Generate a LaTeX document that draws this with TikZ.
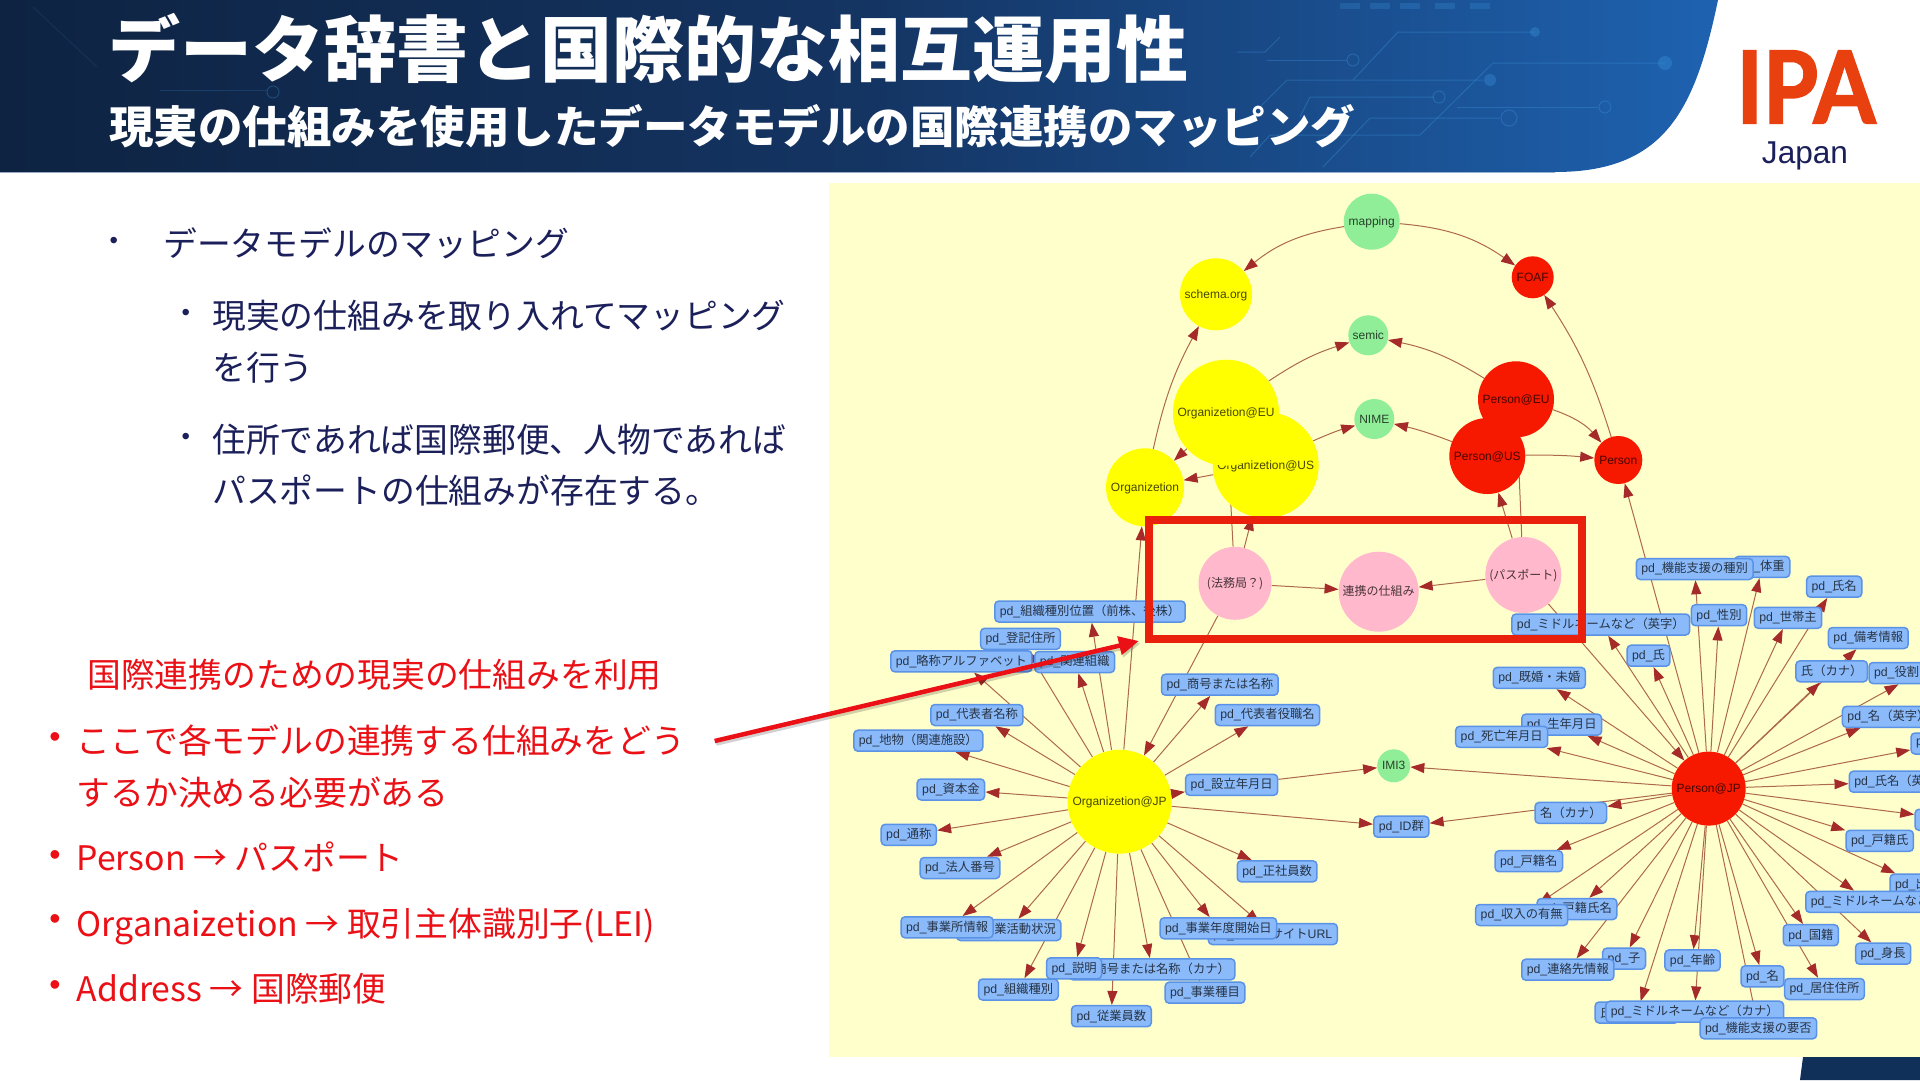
\documentclass[tikz,border=0pt]{standalone}
\usepackage{fontspec}
\setmainfont{Liberation Sans}
\newfontfamily\cjk{Noto Sans CJK JP}
\newfontfamily\logofont[FakeBold=2]{Lato}
\usetikzlibrary{arrows.meta}
\pgfdeclarelayer{backdrop}
\pgfdeclarelayer{links}
\pgfsetlayers{backdrop,links,main}
\newcommand\pd[1]{pd\_{\cjk #1}}
\definecolor{panelcol}{HTML}{FFFFCC}
\definecolor{navycol}{HTML}{1B1F5A}
\definecolor{alertcol}{HTML}{EA1016}
\definecolor{framecol}{HTML}{E8200C}
\definecolor{fieldcol}{HTML}{8BBAFA}
\definecolor{fieldline}{HTML}{5A92E6}
\definecolor{linkcol}{HTML}{AD6A4A}
\definecolor{tipcol}{HTML}{A52A2A}
\definecolor{redcol}{HTML}{F71800}
\definecolor{greencol}{HTML}{90EE98}
\definecolor{pinkcol}{HTML}{FFB8CC}
\definecolor{yellowcol}{HTML}{FFFF00}
\definecolor{bannerA}{HTML}{0E2342}
\definecolor{bannerB}{HTML}{143462}
\definecolor{bannerC}{HTML}{1E62B0}
\definecolor{cornercol}{HTML}{10305A}
\definecolor{tracecol}{HTML}{3D95DC}
\definecolor{logocol}{HTML}{E8400F}
\definecolor{rulecol}{HTML}{A9BDD6}
\tikzset{
    bubble/.style 2 args={circle,fill=#1,minimum size=#2,inner sep=0pt,text=black,text opacity=.72,text height=11pt,text depth=3pt,font=\fontsize{12}{14}\selectfont},
    field/.style={rectangle,rounded corners=4pt,fill=fieldcol,draw=fieldline,line width=1.5pt,minimum height=21pt,inner xsep=5pt,inner ysep=0pt,text=black,text opacity=.72,font=\fontsize{12.3}{14}\selectfont},
    cutfield/.style={field,text width=#1,align=left},
    link/.style={draw=linkcol,line width=1pt,-{Triangle[length=14pt,width=10pt,color=tipcol]}},
    body/.style={anchor=west,inner sep=0pt,align=left,text=navycol,font=\cjk\fontsize{33.8}{51.6}\selectfont},
    alert/.style={body,text=alertcol},
    navydot/.style={inner sep=0pt,text=navycol,font=\fontsize{24}{24}\selectfont},
    alertdot/.style={inner sep=0pt,text=alertcol,font=\fontsize{32}{32}\selectfont},
    trace/.style={draw=tracecol,line width=1pt,opacity=.35},
    tracedot/.style={fill=tracecol,opacity=.35}
}
\begin{document}
\begin{tikzpicture}[x=1pt,y=-1pt]
    \useasboundingbox (0,0) rectangle (1920,1080);
    % banner and panel
    \begin{pgfonlayer}{backdrop}
        \fill[white] (0,0) rectangle (1920,1080);
        \fill[panelcol] (829,183) rectangle (1920,1057);
        \draw[line width=1.5pt,rulecol] (0,172.5) -- (1555,172.5);
        \path[left color=bannerA,right color=bannerC,middle color=bannerB]
            (0,0) -- (1718,0) .. controls (1695,110) and (1665,172) .. (1555,172) -- (0,172) -- cycle;
        % circuit lines
        \draw[trace] (1353,80) -- (1398,32) -- (1535,32);
        \fill[tracedot] (1535,32) circle (5);
        \draw[trace] (1420,135) -- (1493,63) -- (1665,63);
        \fill[tracedot] (1665,63) circle (7);
        \draw[trace] (1260,107) -- (1287,80) -- (1483,80);
        \fill[tracedot] (1490,80) circle (6);
        \draw[trace] (1300,117) -- (1310,97) -- (1434,97);
        \draw[trace] (1439,97) circle (6);
        \draw[trace] (1323,167) -- (1370,118) -- (1500,118);
        \draw[trace] (1509,118) circle (8);
        \draw[trace] (1250,157) -- (1270,135) -- (1420,135);
        \draw[trace] (1457,107) -- (1598,107);
        \draw[trace] (1605,107) circle (6);
        \draw[trace] (1267,60) -- (1347,60);
        \draw[trace] (1353,60) circle (6);
        \draw[trace] (1237,52) -- (1265,52) -- (1280,37);
        \draw[trace,opacity=.2] (160,90) -- (267,90);
        \draw[trace,opacity=.3] (273,92) circle (6);
        \draw[trace,opacity=.12] (33,7) -- (97,67);
        \foreach \u in {1340,1370,1400,1435,1470}
            \fill[tracedot,opacity=.25] (\u,3) rectangle +(20,6);
        % corner
        \fill[cornercol] (1803,1057) -- (1920,1057) -- (1920,1080) -- (1800,1080) -- cycle;
    \end{pgfonlayer}
    % headline
    \node[anchor=west,inner sep=0pt,text=white,font=\cjk\bfseries\fontsize{72}{80}\selectfont] (title) at (108,49) {データ辞書と国際的な相互運用性};
    \node[anchor=west,inner sep=0pt,text=white,font=\cjk\bfseries\fontsize{44.5}{50}\selectfont] (subtitle) at (109,126) {現実の仕組みを使用したデータモデルの国際連携のマッピング};
    \node[inner sep=0pt,text=logocol,font=\logofont\bfseries\fontsize{100}{100}\selectfont,xscale=.89] (logo) at (1806,87) {IPA};
    \node[inner sep=0pt,text=navycol,font=\fontsize{31.6}{36}\selectfont] (japan) at (1805,155.5) {Japan};
    % left text
    \node[navydot] (dotA) at (113.8,242.7) {•};
    \node[body] (lineA) at (163,243) {データモデルのマッピング};
    \node[navydot] (dotB) at (185.8,315) {•};
    \node[body] (lineB) at (212,341.5) {現実の仕組みを取り入れてマッピング\\を行う};
    \node[navydot] (dotC) at (185.8,438.5) {•};
    \node[body] (lineC) at (212,465) {住所であれば国際郵便、人物であれば\\パスポートの仕組みが存在する。};
    \node[alert] (headD) at (87,675) {国際連携のための現実の仕組みを利用};
    \node[alertdot] (dotD) at (55,740) {•};
    \node[alert] (lineD) at (76.5,766.5) {ここで各モデルの連携する仕組みをどう\\するか決める必要がある};
    \node[alertdot] (dotE) at (55,857.6) {•};
    \node[alert] (lineE) at (76.5,857) {Person → パスポート};
    \node[alertdot] (dotF) at (55,922) {•};
    \node[alert] (lineF) at (76.5,927) {Organaizetion → 取引主体識別子(LEI)};
    \node[alertdot] (dotG) at (55,988) {•};
    \node[alert] (lineG) at (76.5,989) {Address → 国際郵便};
    % upper graph
    \node[bubble={greencol}{56pt}] (mapping) at (1371.7,221.7) {mapping};
    \node[bubble={yellowcol}{72pt}] (schema) at (1216,294.3) {schema.org};
    \node[bubble={redcol}{42pt}] (foaf) at (1532.7,277.3) {FOAF};
    \node[bubble={greencol}{40pt}] (semic) at (1368.3,335.3) {semic};
    \node[bubble={greencol}{40pt}] (nime) at (1374.3,419) {NIME};
    \node[bubble={yellowcol}{78pt}] (org) at (1145,487.3) {Organizetion};
    \node[bubble={yellowcol}{106pt}] (orgUS) at (1265.7,465) {Organizetion@US};
    \node[bubble={yellowcol}{106pt}] (orgEU) at (1226,412.7) {Organizetion@EU};
    \node[bubble={redcol}{76pt}] (perEU) at (1516,399.3) {Person@EU};
    \node[bubble={redcol}{76pt}] (perUS) at (1487.3,456) {Person@US};
    \node[bubble={redcol}{48pt}] (per) at (1618.3,460) {Person};
    \node[bubble={pinkcol}{73pt}] (legal) at (1235,583.3) {\cjk (法務局？)};
    \node[bubble={pinkcol}{80pt}] (bridge) at (1378.7,591.7) {\cjk 連携の仕組み};
    \node[bubble={pinkcol}{76pt}] (passport) at (1523.3,575) {\cjk (パスポート)};
    \node[bubble={greencol}{33pt}] (imi) at (1393.7,765.8) {IMI3};
    % organization fields
    \node[bubble={yellowcol}{104pt}] (orgJP) at (1119.6,801.7) {Organizetion@JP};
    \node[field] (oPos) at (1090,611.5) {\pd{組織種別位置（前株、後株）}};
    \node[field] (oAddr) at (1020.5,638.8) {\pd{登記住所}};
    \node[field] (oAbbr) at (961.4,661.3) {\pd{略称アルファベット}};
    \node[field] (oRel) at (1074.7,662) {\pd{関連組織}};
    \node[field] (oName) at (1219.8,684.7) {\pd{商号または名称}};
    \node[field] (oRepT) at (1267.5,715) {\pd{代表者役職名}};
    \node[field] (oRep) at (976.9,715) {\pd{代表者名称}};
    \node[field] (oFac) at (918.3,740.7) {\pd{地物（関連施設）}};
    \node[field] (oCap) at (950.9,789.5) {\pd{資本金}};
    \node[field] (oDate) at (1231.7,784.8) {\pd{設立年月日}};
    \node[field] (oAlias) at (908.8,834.8) {\pd{通称}};
    \node[field] (oNum) at (960,868) {\pd{法人番号}};
    \node[field] (oStaff) at (1277.1,871.3) {\pd{正社員数}};
    \node[field] (oBiz) at (1008.7,930) {\pd{事業活動状況}};
    \node[field] (oOffice) at (947.1,927.3) {\pd{事業所情報}};
    \node[field] (oWeb) at (1272.8,934) {\pd{ウェブサイト}URL};
    \node[field] (oFY) at (1218.4,928.3) {\pd{事業年度開始日}};
    \node[field] (oKana) at (1152,969.3) {\pd{商号または名称（カナ）}};
    \node[field] (oDesc) at (1074.1,968.3) {\pd{説明}};
    \node[field] (oType) at (1018.4,989.5) {\pd{組織種別}};
    \node[field] (oItem) at (1205,992.7) {\pd{事業種目}};
    \node[field] (oEmp) at (1111.4,1016.2) {\pd{従業員数}};
    \node[field] (idGroup) at (1401.3,826.7) {pd\_ID{\cjk 群}};
    % person fields
    \node[bubble={redcol}{74pt}] (perJP) at (1708.7,788.6) {Person@JP};
    \node[field] (pWt) at (1762.2,566.9) {\pd{体重}};
    \node[field] (pFn) at (1694.7,569) {\pd{機能支援の種別}};
    \node[field] (pName) at (1834.2,586.7) {\pd{氏名}};
    \node[field] (pSex) at (1719,615.2) {\pd{性別}};
    \node[field] (pHead) at (1788,617.8) {\pd{世帯主}};
    \node[field] (pMidE) at (1600.8,624.5) {\pd{ミドルネームなど（英字）}};
    \node[field] (pNote) at (1868.3,638) {\pd{備考情報}};
    \node[field] (pSur) at (1648.5,655.7) {\pd{氏}};
    \node[field,font=\cjk\fontsize{12.3}{14}\selectfont] (pSurK) at (1831.7,671.3) {氏（カナ）};
    \node[cutfield=90pt] (pRole) at (1919,673) {\pd{役割}};
    \node[field] (pMar) at (1539.3,677.9) {\pd{既婚・未婚}};
    \node[field,anchor=west] (pGivE) at (1841.7,716.8) {\pd{名（英字）}};
    \node[field] (pBirth) at (1561.7,724.6) {\pd{生年月日}};
    \node[field] (pDeath) at (1501.7,736.8) {\pd{死亡年月日}};
    \node[cutfield=56pt] (pCut) at (1944,743.5) {p};
    \node[cutfield=104pt] (pNameE) at (1906.3,781.7) {\pd{氏名（英}};
    \node[field,font=\cjk\fontsize{12.3}{14}\selectfont] (pGivK) at (1570.8,812.9) {名（カナ）};
    \node[cutfield=74pt] (pBlank) at (1957,819.8) {};
    \node[field] (pFam) at (1879.7,840.8) {\pd{戸籍氏}};
    \node[field] (pKos) at (1528.8,861.2) {\pd{戸籍名}};
    \node[cutfield=50pt] (pOut) at (1920,884.7) {\pd{出}};
    \node[field,anchor=west] (pMidX) at (1805,901.9) {\pd{ミドルネームなど}};
    \node[field] (pFamN) at (1577,909) {\pd{戸籍氏名}};
    \node[field] (pInc) at (1521.7,915) {\pd{収入の有無}};
    \node[field] (pNat) at (1810.8,935.2) {\pd{国籍}};
    \node[field] (pTall) at (1883.1,953.7) {\pd{身長}};
    \node[field] (pChild) at (1624.1,958.7) {\pd{子}};
    \node[field] (pAge) at (1692.5,960.4) {\pd{年齢}};
    \node[field] (pCont) at (1567.8,969.7) {\pd{連絡先情報}};
    \node[field] (pGiv) at (1762.5,976.3) {\pd{名}};
    \node[field] (pAddr) at (1824.5,989) {\pd{居住住所}};
    \node[field,font=\cjk\fontsize{12.3}{14}\selectfont] (pKanaF) at (1637,1012.5) {氏名（カナ）};
    \node[field] (pMidK) at (1694.7,1011.7) {\pd{ミドルネームなど（カナ）}};
    \node[field] (pNeed) at (1758.4,1028.3) {\pd{機能支援の要否}};
    % connectors
    \begin{pgfonlayer}{links}
        \draw[link] (mapping) to[bend right=15] (schema);
        \draw[link] (mapping) to[bend left=15] (foaf);
        \draw[link] (org) to[bend left=8] (schema);
        \draw[link] (per) to[bend right=8] (foaf);
        \draw[link] (orgEU) to[bend left=8] (semic);
        \draw[link] (orgUS) to[bend left=4] (nime);
        \draw[link] (perEU) to[bend right=10] (semic);
        \draw[link] (perUS) to[bend right=4] (nime);
        \draw[link] (perEU) to[bend left=15] (per);
        \draw[link] (perUS) to[bend left=3] (per);
        \draw[link] (orgEU) -- (org);
        \draw[link] (orgUS) -- (org);
        \draw[link] (legal) -- (orgEU);
        \draw[link] (legal) -- (orgUS);
        \draw[link] (legal) -- (bridge);
        \draw[link] (legal) -- (orgJP);
        \draw[link] (passport) -- (bridge);
        \draw[link] (passport) -- (perUS);
        \draw[link] (passport) -- (perEU);
        \draw[link] (passport) -- (perJP);
        \draw[link] (orgJP) -- (org);
        \draw[link] (perJP) -- (per);
        \draw[link] (oDate) -- (imi);
        \draw[link] (perJP) -- (imi);
        \draw[link] (orgJP) -- (idGroup);
        \draw[link] (perJP) -- (idGroup);
        \foreach \t in {oPos,oAddr,oAbbr,oRel,oName,oRepT,oRep,oFac,oCap,oDate,oAlias,oNum,oStaff,oBiz,oOffice,oWeb,oFY,oKana,oDesc,oType,oItem,oEmp}
            \draw[link] (orgJP) -- (\t);
        \foreach \t in {pWt,pFn,pName,pSex,pHead,pMidE,pNote,pSur,pSurK,pRole,pMar,pGivE,pBirth,pDeath,pCut,pNameE,pGivK,pBlank,pFam,pKos,pOut,pMidX,pFamN,pInc,pNat,pTall,pChild,pAge,pCont,pGiv,pAddr,pKanaF,pMidK,pNeed}
            \draw[link] (perJP) -- (\t);
    \end{pgfonlayer}
    % frame and callout
    \draw[framecol,line width=8pt] (1148.7,520) rectangle (1582,639);
    \coordinate (callA) at (714.7,741);
    \coordinate (callB) at (1138.9,641);
    \draw[black,opacity=.18,line width=4.5pt,-{Triangle[length=20pt,width=18pt]}] ([shift={(1.5,2.5)}]callA) -- ([shift={(1.5,2.5)}]callB);
    \draw[alertcol,line width=4.5pt,-{Triangle[length=20pt,width=18pt]}] (callA) -- (callB);
\end{tikzpicture}
\end{document}
